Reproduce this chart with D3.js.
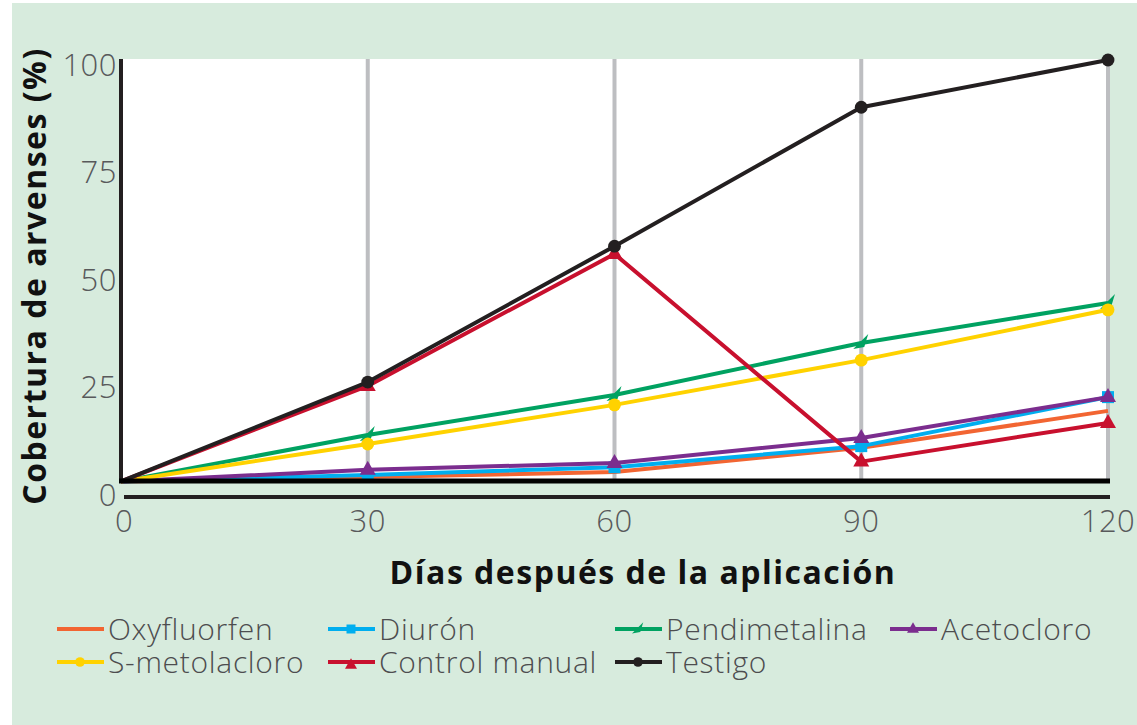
<!DOCTYPE html>
<html>
<head>
<meta charset="utf-8">
<script src="https://cdn.jsdelivr.net/npm/d3@7"></script>
<style>
  body { margin: 0; background: #fff; }
  svg text { font-family: "Open Sans", "Liberation Sans", sans-serif; }
</style>
</head>
<body>
<div id="chart"></div>
<script>
// data
const days = [0, 30, 60, 90, 120];
const yTicks = [0, 25, 50, 75, 100];
const oxyfluorfen = [2, 3.0, 4.2, 9.8, 18.4];
const diuron = [2, 3.5, 5.3, 10.2, 21.6];
const pendimetalina = [2, 12.8, 22.1, 34.2, 43.5];
const acetocloro = [2, 4.7, 6.3, 12.1, 21.6];
const smetolacloro = [2, 10.7, 19.8, 30.2, 41.9];
const controlManual = [2, 24.2, 54.9, 6.6, 15.6];
const testigo = [2, 25.1, 56.7, 89, 100];

const series = [
  { name: "Oxyfluorfen", values: oxyfluorfen, color: "#f26532", marker: "none" },
  { name: "Diurón", values: diuron, color: "#00aeef", marker: "square" },
  { name: "Pendimetalina", values: pendimetalina, color: "#00a261", marker: "leaf" },
  { name: "Acetocloro", values: acetocloro, color: "#7b2d8e", marker: "triangle" },
  { name: "S-metolacloro", values: smetolacloro, color: "#ffd200", marker: "circle" },
  { name: "Control manual", values: controlManual, color: "#c8102e", marker: "triangle" },
  { name: "Testigo", values: testigo, color: "#231f20", marker: "circle" }
];

const width = 1137, height = 725;
const svg = d3.select("#chart").append("svg").attr("width", width).attr("height", height);

// green panel
svg.append("rect").attr("x", 12).attr("y", 3).attr("width", width - 12).attr("height", height - 3)
  .attr("fill", "#d7ebdd");

const x = d3.scaleLinear().domain([0, 120]).range([121, 1108]);
const y = d3.scaleLinear().domain([0, 100]).range([490, 60]);
const plotBottom = 481;

// white plot area
svg.append("rect").attr("x", 121).attr("y", 59).attr("width", 989).attr("height", plotBottom - 59)
  .attr("fill", "#fff");

// vertical grid
svg.append("g").selectAll("line").data(days.slice(1)).enter().append("line")
  .attr("x1", d => x(d)).attr("x2", d => x(d))
  .attr("y1", 59).attr("y2", plotBottom)
  .attr("stroke", "#bdbec1").attr("stroke-width", 4);

// lines
const line = d3.line().x((d, i) => x(days[i])).y(d => y(d));

function markerPath(type) {
  if (type === "square") return "M-6,-6H6V6H-6Z";
  if (type === "triangle") return "M0,-9L8,5H-8Z";
  if (type === "circle") return d3.symbol(d3.symbolCircle, 130)();
  if (type === "leaf") return "M-8,6L7,-9L3,4Z";
  return null;
}

const g = svg.append("g");
series.forEach(function (s) {
  g.append("path").datum(s.values).attr("d", line)
    .attr("fill", "none").attr("stroke", s.color).attr("stroke-width", 4)
    .attr("stroke-linejoin", "round");
  if (s.marker !== "none") {
    g.selectAll(null).data(s.values.slice(1)).enter().append("path")
      .attr("d", markerPath(s.marker))
      .attr("transform", (d, i) => `translate(${x(days[i + 1])},${y(d)})`)
      .attr("fill", s.color);
  }
});

// axis frame
svg.append("line").attr("x1", 121).attr("x2", 121).attr("y1", 59).attr("y2", plotBottom + 2)
  .attr("stroke", "#231f20").attr("stroke-width", 4);
svg.append("line").attr("x1", 119).attr("x2", 1110).attr("y1", plotBottom).attr("y2", plotBottom)
  .attr("stroke", "#000").attr("stroke-width", 5);
svg.append("line").attr("x1", 124).attr("x2", 1110).attr("y1", 497).attr("y2", 497)
  .attr("stroke", "#231f20").attr("stroke-width", 4);

// y tick labels
svg.append("g").selectAll("text").data(yTicks).enter().append("text")
  .attr("x", 117).attr("y", d => y(d) + 5)
  .attr("dy", "0.35em").attr("text-anchor", "end")
  .attr("font-size", 31).attr("font-weight", 300).attr("fill", "#58595b")
  .attr("letter-spacing", 0.5)
  .text(d => d);

// x tick labels
svg.append("g").selectAll("text").data(days).enter().append("text")
  .attr("x", d => x(d) + (d === 0 ? 3 : 0)).attr("y", 521)
  .attr("dy", "0.35em").attr("text-anchor", "middle")
  .attr("font-size", 31).attr("font-weight", 300).attr("fill", "#58595b")
  .attr("letter-spacing", 0.5)
  .text(d => d);

// axis titles
svg.append("text").attr("x", 643).attr("y", 573).attr("dy", "0.35em")
  .attr("text-anchor", "middle").attr("font-size", 32).attr("font-weight", 700)
  .attr("letter-spacing", 1.5)
  .attr("fill", "#111").text("Días después de la aplicación");

svg.append("text").attr("transform", "translate(35,276) rotate(-90)").attr("dy", "0.35em")
  .attr("text-anchor", "middle").attr("font-size", 32).attr("font-weight", 700)
  .attr("letter-spacing", 1.5)
  .attr("fill", "#111").text("Cobertura de arvenses (%)");

// legend
const legendPos = [
  [57, 629], [328, 629], [615, 629], [890, 629],
  [57, 662], [328, 662], [615, 662]
];
const legendOrder = ["Oxyfluorfen", "Diurón", "Pendimetalina", "Acetocloro", "S-metolacloro", "Control manual", "Testigo"];
legendOrder.forEach(function (name, i) {
  const s = series.find(d => d.name === name);
  const [lx, ly] = legendPos[i];
  const lg = svg.append("g").attr("transform", `translate(${lx},${ly})`);
  lg.append("line").attr("x1", 0).attr("x2", 47).attr("y1", 0).attr("y2", 0)
    .attr("stroke", s.color).attr("stroke-width", 4);
  if (s.marker !== "none") {
    let t = "translate(23,0)";
    if (name === "Control manual") t = "translate(23,3)";
    lg.append("path").attr("d", markerPath(s.marker)).attr("transform", t + " scale(0.75)")
      .attr("fill", s.color);
  }
  lg.append("text").attr("x", 51).attr("y", 0).attr("dy", "0.35em")
    .attr("font-size", 30).attr("font-weight", 300).attr("fill", "#4d4d4f")
    .attr("letter-spacing", 0.7)
    .text(name);
});
</script>
</body>
</html>
